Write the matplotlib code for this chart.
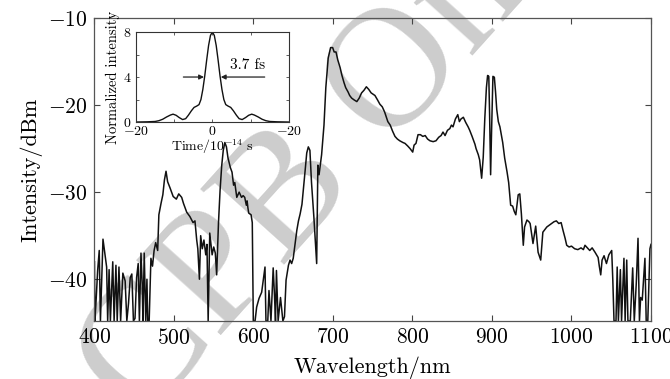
import matplotlib
matplotlib.use("Agg")
import matplotlib.pyplot as plt

plt.rcParams['font.family'] = 'serif'
plt.rcParams['font.serif'] = ['cmr10']
plt.rcParams['mathtext.fontset'] = 'cm'
plt.rcParams['axes.unicode_minus'] = False

# ---------------- data ----------------
wavelength = [400, 400.5, 402, 404, 406, 407.5, 410.7, 413, 415.3, 416.6, 418.4, 420, 423, 424.7, 427,
              428.6, 430.8, 432.9, 435.7, 438.6, 440.7, 442.8, 445, 447, 449, 451, 453, 455, 456.5,
              458.5, 460, 461, 462.6, 464.5, 466, 467, 468.8, 471, 473, 475, 477, 479.5, 481, 483.7,
              486, 488, 490, 492, 495, 499, 503, 506, 509.7, 512, 516, 520, 524, 526.4, 528.6, 530,
              532, 533.6, 535.6, 537.7, 540, 541.5, 543, 545, 548, 550, 552, 553.7, 556, 558, 560,
              562, 564, 566, 568, 571, 573, 575, 576.5, 579, 582, 585, 587, 589, 591, 592, 593, 594,
              597, 598.5, 599.8, 602, 604, 607, 610.3, 612.5, 614.5, 615.7, 618, 619.5, 622, 624.8,
              626.5, 627.7, 628.9, 631, 634, 637, 639, 641, 644, 646, 648, 650, 652.5, 654.5, 656.6,
              658.7, 661, 663, 665, 667, 669, 671, 673, 676, 679.5, 680.5, 681, 682.5, 685.7, 688.7,
              691, 694, 697, 699.6, 701.5, 703.8, 706, 709, 711, 713.8, 716, 719, 721, 723.5, 726.5,
              730, 733, 736, 739, 742, 745, 748, 752.8, 756, 759, 762, 765, 769, 772, 775, 778, 781,
              784, 788, 790.6, 794, 797, 800.3, 802, 804.4, 807, 810, 813, 816, 819, 822, 826, 829.6,
              833, 836, 838.4, 841, 844, 847, 849, 851, 854, 857, 859, 861, 864, 867, 870, 872, 875,
              878.6, 880, 882.8, 884.5, 887, 889, 891, 893, 894.5, 896, 897, 898.3, 899.5, 901.2, 903,
              904.5, 906, 908, 910, 913.5, 916, 919, 921, 923.5, 926, 928, 930, 933, 935, 937, 939.4,
              941, 944, 946.5, 948, 951.6, 955, 958, 961.3, 964, 969, 972, 975, 978, 981, 984, 987,
              989.4, 992, 994, 997, 1000, 1004, 1008, 1012, 1015, 1017, 1020, 1023, 1026, 1029.6,
              1033.5, 1035, 1036.8, 1038.5, 1041, 1044, 1047, 1050.6, 1052, 1053.5, 1056, 1057.5,
              1059, 1061.5, 1063, 1066, 1067.5, 1069.5, 1071, 1074, 1077, 1079, 1081.5, 1083.7,
              1085.5, 1087, 1089, 1092.4, 1094, 1096, 1097.5, 1098.7, 1100]
intensity = [-38.0, -44.8, -42.5, -39, -36.7, -44.8, -35.4, -37, -38.6, -44.8, -38.9, -44.8, -38.0, -44.8, -38.4,
             -44.8, -38.6, -44.8, -39.3, -40.2, -44.8, -42.8, -39.8, -39.4, -44.8, -44.5, -39.8, -38.2, -44.8,
             -37.0, -40.5, -44.8, -37.0, -44.8, -40, -44.8, -44.8, -37.6, -38.5, -36.7, -35.8, -36.7, -32.6, -31.3,
             -30.3, -28.6, -27.6, -28.8, -29.5, -30.5, -30.8, -30.2, -30.6, -31.3, -32.3, -32.8, -33.5, -33.3, -35.5, -36.5,
             -40.0, -35.0, -36.5, -35.5, -37.2, -36, -44.8, -34.7, -37.2, -36.3, -37.0, -39.5, -33.5, -29.8, -27,
             -25.2, -24.3, -24.8, -26.1, -27.2, -27.7, -29.2, -28.9, -30.6, -30.0, -30.6, -30.4, -30.6, -31.5, -31.0, -31.8, -32.4,
             -32.6, -33.5, -44.8, -44.8, -43.2, -42.2, -41.5, -40.0, -38.6, -44.8, -44.8, -41.3, -44.8, -38.7,
             -42, -44.8, -39.0, -44.8, -42.1, -44.8, -44.3, -40.1, -38.4, -37.8, -38.2, -37.6, -35.8, -34.4, -33.3,
             -32.5, -31.4, -29.5, -27.5, -25.5, -24.8, -25.2, -28.9, -32.9, -38.2, -31, -26.9, -28.0, -25.7, -22.3,
             -18.0, -14.6, -13.4, -13.4, -13.9, -13.9, -14.8, -15.7, -16.5, -17.4, -18.0, -18.5, -18.9, -19.2, -19.4,
             -19.6, -19.2, -18.6, -18.3, -17.9, -18.2, -18.6, -18.9, -19.4, -19.9, -20.2, -20.8, -21.9, -22.3, -23.0, -23.6, -23.9,
             -24.1, -24.3, -24.4, -24.7, -25.0, -25.4, -24.6, -24.4, -23.4, -23.4, -23.6, -23.5, -23.9, -24.1, -24.2, -24.1,
             -23.7, -23.5, -23.1, -23.5, -22.9, -22.7, -22.3, -22.5, -21.6, -21.1, -21.9, -21.6, -21.4, -22.0, -22.5, -22.9, -23.6,
             -24.5, -25.0, -25.7, -26.3, -28.4, -26, -21.5, -18.0, -16.6, -16.7, -21, -28.0, -23, -16.7, -16.8,
             -18.5, -20.5, -21.9, -22.5, -24.3, -26.1, -27.7, -28.9, -31.5, -31.6, -32.2, -32.6, -30.3, -30.2, -32.5, -36.1,
             -34, -33.2, -33.4, -33.6, -35.9, -33.9, -36.9, -37.8, -34.6, -34.0, -33.8, -33.6, -33.4, -33.3, -33.6, -33.5,
             -34.4, -35.3, -36.1, -36.3, -36.2, -36.5, -36.6, -36.4, -36.6, -36.1, -36.4, -36.7, -36.4, -36.9,
             -37.5, -38.5, -39.5, -37.8, -37.3, -38.2, -37.2, -36.7, -40.1, -44.8, -44.8, -38.6,
             -44.8, -38.9, -44.8, -37.6, -44.8, -37.8, -44.8, -44.8, -38.7, -44.8, -40.5, -35.3,
             -44.8, -42.1, -42.4, -37.6, -44.8, -44.8, -40, -36.5, -36.0]

x_ticks = [400, 500, 600, 700, 800, 900, 1000, 1100]
x_ticklabels = ['$400$', '$500$', '$600$', '$700$', '$800$', '$900$', '$1000$', '$1100$']
y_ticks = [-40, -30, -20, -10]
y_ticklabels = ['$-40$', '$-30$', '$-20$', '$-10$']

# inset: pulse
inset_time = [-20, -17, -15, -14, -13, -12, -11, -10.3, -9.5, -8.7, -7.8, -7, -6.3, -5.5, -4.8, -4.1,
              -3.5, -3.0, -2.5, -2.0, -1.5, -1.0, -0.5, 0, 0.5, 1.0, 1.5, 2.0, 2.5, 3.0, 3.5, 4.1, 4.8,
              5.5, 6.3, 7, 7.8, 8.7, 9.5, 10.3, 11, 12, 13, 14, 15, 17, 20]
inset_intensity = [0.0, 0.02, 0.05, 0.12, 0.25, 0.45, 0.62, 0.7, 0.6, 0.4, 0.22, 0.3, 0.6, 1.0, 1.3, 1.42,
                   1.55, 2.0, 2.9, 4.1, 5.5, 6.8, 7.7, 8.0, 7.7, 6.8, 5.5, 4.1, 2.9, 2.0, 1.55, 1.42, 1.3,
                   1.0, 0.6, 0.3, 0.22, 0.4, 0.6, 0.7, 0.62, 0.45, 0.25, 0.12, 0.05, 0.02, 0.0]
inset_xticks = [-20, -10, 0, 10, 20]
inset_xticklabels = ['$-20$', '', '$0$', '', '$-20$']
inset_yticks = [0, 2, 4, 6, 8]
inset_yticklabels = ['$0$', '', '$4$', '', '$8$']
fwhm_label = '3.7 fs'
fwhm_level = 4.0
fwhm_half = 2.2

# ---------------- figure ----------------
fig = plt.figure(figsize=(6.7, 3.79), dpi=100)

# watermark (behind the plot)
fig.text(0.21, -0.12, 'CPB Online', fontsize=124, family='Liberation Serif', color='#cdcdcd',
         rotation=48, rotation_mode='anchor', ha='left', va='baseline', zorder=-5)

ax = fig.add_axes([0.141, 0.153, 0.8306, 0.7995])
ax.set_facecolor('none')
ax.plot(wavelength, intensity, color='#111111', lw=1.1)
ax.set_xlim(400, 1100)
ax.set_ylim(-44.8, -10)
ax.set_xticks(x_ticks)
ax.set_xticklabels(x_ticklabels)
ax.set_yticks(y_ticks)
ax.set_yticklabels(y_ticklabels)
ax.tick_params(direction='in', length=4, width=0.8, top=True, right=True, labelsize=15.5,
               color='#444444', pad=5)
for s in ax.spines.values():
    s.set_color('#555555')
    s.set_linewidth(0.9)
ax.set_xlabel('Wavelength/nm', fontsize=16, labelpad=6)
ax.set_ylabel('Intensity/dBm', fontsize=16, labelpad=4)

# inset
axi = fig.add_axes([0.203, 0.678, 0.228, 0.2375])
axi.plot(inset_time, inset_intensity, color='#111111', lw=1.0)
axi.set_xlim(-20, 20)
axi.set_ylim(0, 8)
axi.set_xticks(inset_xticks)
axi.set_xticklabels(inset_xticklabels)
axi.set_yticks(inset_yticks)
axi.set_yticklabels(inset_yticklabels)
axi.tick_params(axis='x', direction='in', length=2.5, width=0.6, top=True, labelsize=10,
                pad=2, color='#444444')
axi.tick_params(axis='y', direction='in', length=2.5, width=0.6, right=True, labelsize=10,
                pad=3, color='#444444')
for s in axi.spines.values():
    s.set_color('#333333')
    s.set_linewidth(0.8)
axi.set_xlabel('Time/10$^{-14}$ s', fontsize=10, labelpad=0)
axi.set_ylabel('Normalized intensity', fontsize=10.5, labelpad=2)
axi.annotate('', xy=(-fwhm_half, fwhm_level), xytext=(-7.6, fwhm_level),
             arrowprops=dict(arrowstyle='-|>', color='#222222', lw=0.9, mutation_scale=7,
                             shrinkA=0, shrinkB=0))
axi.annotate('', xy=(fwhm_half, fwhm_level), xytext=(13.7, fwhm_level),
             arrowprops=dict(arrowstyle='-|>', color='#222222', lw=0.9, mutation_scale=7,
                             shrinkA=0, shrinkB=0))
axi.text(4.6, 4.45, fwhm_label, fontsize=11, ha='left', va='bottom')

fig.savefig('out.png', dpi=100)
